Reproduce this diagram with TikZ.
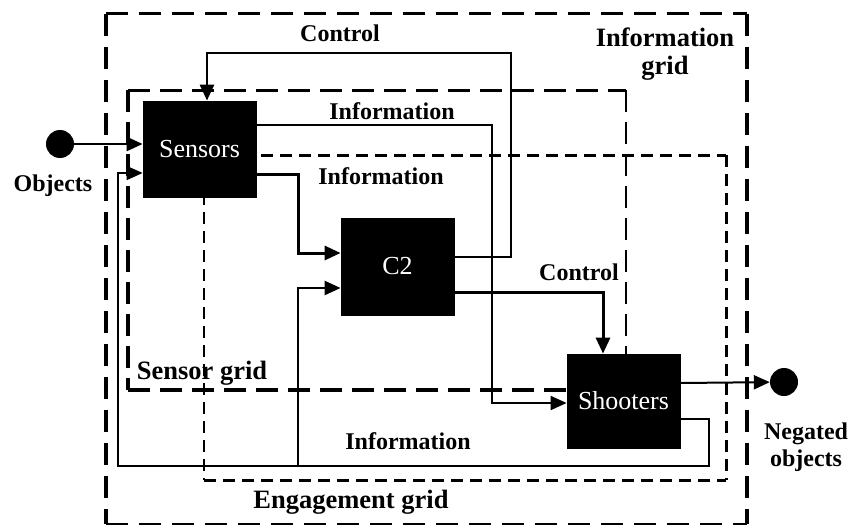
\documentclass[tikz,border=0pt]{standalone}
\usepackage{fontspec}
\setmainfont{Liberation Serif}
\usetikzlibrary{arrows.meta}

\tikzset{
  unitbox/.style={draw=black, fill=black, line width=0.8pt, minimum width=113pt,
    minimum height=96pt, inner sep=0pt, text=white, font=\fontsize{26}{29}\selectfont},
  dot/.style={circle, fill=black, minimum size=28pt, inner sep=0pt},
  lbl/.style={font=\bfseries\fontsize{24}{27}\selectfont, align=center, inner sep=0pt},
  gridlbl/.style={font=\bfseries\fontsize{26.5}{28}\selectfont, align=center, inner sep=0pt},
  infogrid/.style={line width=3.5pt, dash pattern=on 22pt off 11pt},
  sensgrid/.style={line width=3pt, dash pattern=on 22pt off 10pt},
  enggrid/.style={line width=3pt, dash pattern=on 12pt off 7pt},
  flow/.style={line width=2.5pt, -{Triangle[length=16pt,width=14pt]}},
  thinflow/.style={line width=1.6pt, -{Triangle[length=16pt,width=14pt]}},
}

\begin{document}
\begin{tikzpicture}[x=1pt,y=-1pt]
\useasboundingbox (0,0) rectangle (850,527);

% information grid
\draw[infogrid, line width=3pt] (106,14) -- (747,14);
\draw[infogrid, line width=4pt] (106,14) -- (106,524);
\draw[infogrid, line width=4pt] (747,14) -- (747,524);
\draw[infogrid, line width=2pt] (106,524) -- (747,524);

% sensor grid
\draw[sensgrid] (128,90) -- (626,90);
\draw[sensgrid, line width=3.5pt] (128,90) -- (128,390);
\draw[sensgrid, line width=2.5pt] (626,90) -- (626,390);
\draw[sensgrid, line width=4pt] (128,390) -- (626,390);

% engagement grid
\draw[enggrid] (204,155) -- (726,155);
\draw[enggrid, line width=2.5pt] (204,155) -- (204,480);
\draw[enggrid] (726,155) -- (726,480);
\draw[enggrid] (204,480) -- (726,480);

% units
\node[unitbox] (sensors) at (199.5,149) {Sensors};
\node[unitbox, minimum height=97pt] (c2) at (397.5,266.5) {C2};
\node[unitbox, minimum height=94pt] (shooters) at (623.5,401) {Shooters};

\node[dot] (obj) at (60,144) {};
\node[dot] (neg) at (784,382) {};

% objects in, negated objects out
\draw[flow] (obj) -- (obj -| sensors.west);
\draw[thinflow, line width=2pt] ([yshift=18pt]shooters.east) -- (neg);

% information links
\draw[thinflow] ([yshift=-18pt]shooters.east) -| (709,466) -| (118,173)
  -- ([yshift=-24pt]sensors.west);
\draw[flow] (298,466) |- ([yshift=-21.5pt]c2.west);
\draw[flow, line width=3pt] ([yshift=-25pt]sensors.east) -| (298,253)
  -- ([yshift=13.5pt]c2.west);
\draw[flow, line width=2pt] ([yshift=24pt]sensors.east) -| (492,403)
  -- ([yshift=-2pt]shooters.west);

% control links
\draw[flow, line width=2.8pt] ([yshift=9.5pt]c2.east) -| (511,53)
  -| ([xshift=7.5pt]sensors.north);
\draw[flow, line width=3pt] ([yshift=-25.5pt]c2.east)
  -| ([xshift=-20.5pt]shooters.north);

% labels
\node[lbl] at (340,33) {Control};
\node[lbl] at (392,111) {Information};
\node[lbl] at (381,176) {Information};
\node[lbl] at (579,272) {Control};
\node[lbl] at (408,441) {Information};
\node[lbl] at (53,186) {Objects};
\node[lbl] at (806,447) {Negated\\objects};
\node[gridlbl] at (665,54) {Information\\grid};
\node[gridlbl] at (202,373) {Sensor grid};
\node[gridlbl] at (351,502) {Engagement grid};
\end{tikzpicture}
\end{document}
